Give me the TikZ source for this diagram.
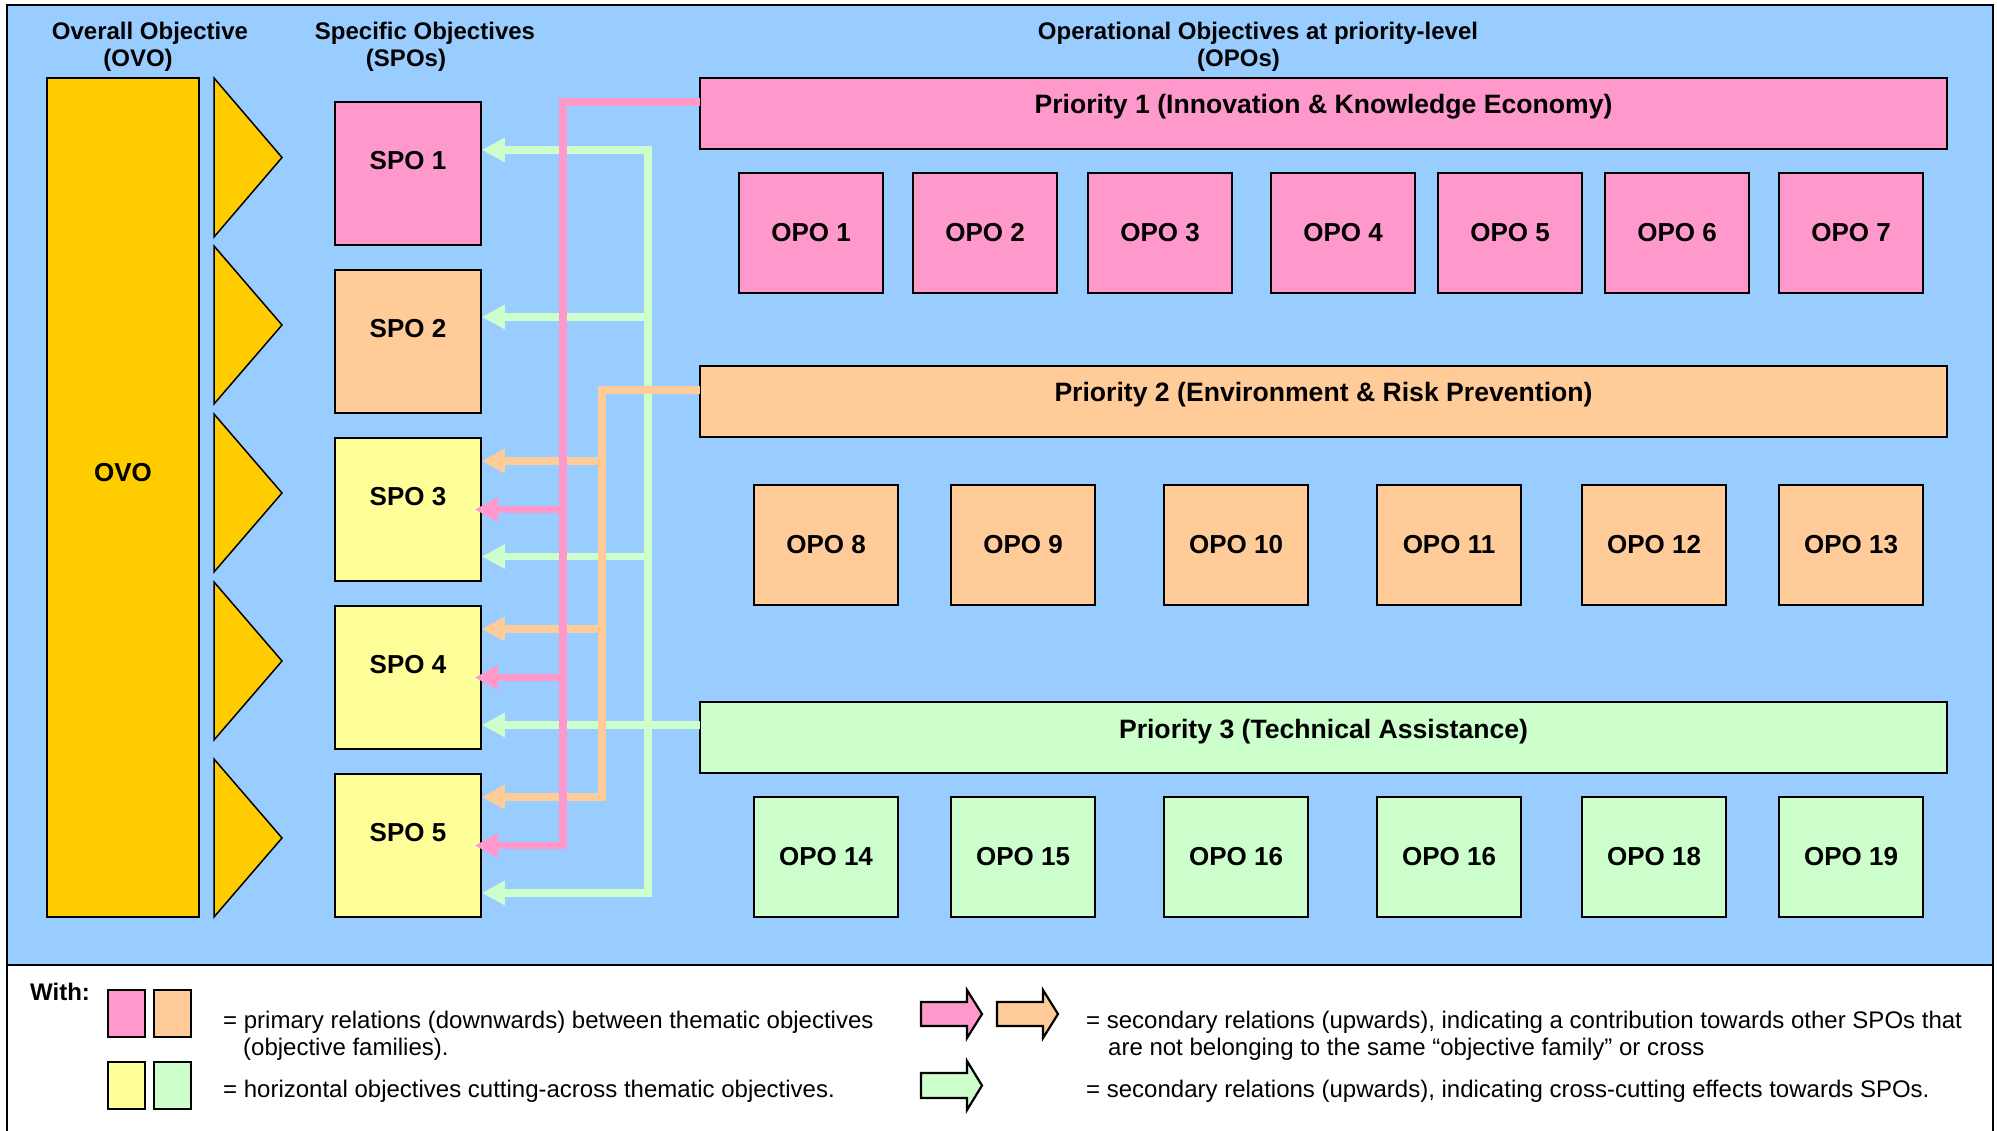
\documentclass[tikz,border=0pt]{standalone}
\usepackage{fontspec}
\setmainfont{Liberation Sans}
\usetikzlibrary{arrows.meta}
\definecolor{bgblue}{HTML}{99CCFF}
\definecolor{goldc}{HTML}{FFCC00}
\definecolor{pinkc}{HTML}{FF99CC}
\definecolor{orangec}{HTML}{FFCC99}
\definecolor{yellowc}{HTML}{FFFF99}
\definecolor{greenc}{HTML}{CCFFCC}
\newcommand\lblfont{\fontsize{26}{30}\selectfont\bfseries}
\newcommand\prifont{\fontsize{26.6}{30}\selectfont\bfseries}
\newcommand\hdrfont{\fontsize{24}{28}\selectfont\bfseries}
\newcommand\legfont{\fontsize{24}{28}\selectfont}
\begin{document}
\begin{tikzpicture}[x=1pt,y=-1pt,
  box/.style={draw=black, line width=1.6pt, inner sep=0pt, font=\lblfont},
  tri/.style={draw=black, line width=1.5pt, fill=goldc},
  hdr/.style={font=\hdrfont, inner sep=0pt},
  lbl/.style={font=\lblfont, inner sep=0pt},
  prilbl/.style={font=\prifont, inner sep=0pt},
  leg/.style={font=\legfont, inner sep=0pt, anchor=west},
  legbox/.style={draw=black, line width=1.6pt, minimum width=37pt, minimum height=47pt, inner sep=0pt},
  legarrow/.style={draw=black, line width=2.2pt, line join=miter},
  conn/.style={line width=7.5pt, line join=miter, -{Triangle[length=23pt,width=23pt]}},
  pinkarr/.style={conn, draw=pinkc},
  orangearr/.style={conn, draw=orangec},
  greenarr/.style={conn, draw=greenc}
]
\useasboundingbox (0,0) rectangle (1997,1131);
% background and frame
\fill[bgblue] (7,5) rectangle (1993,965);
\draw[line width=2pt] (7,965) -- (1993,965);
\draw[line width=2.5pt] (7,1131) -- (7,5) -- (1993,5) -- (1993,1131);

% headers
\node[hdr] (hovoa) at (150,33) {Overall Objective};
\node[hdr] (hovob) at (138,60) {(OVO)};
\node[hdr] (hspoa) at (425,33) {Specific Objectives};
\node[hdr] (hspob) at (406,60) {(SPOs)};
\node[hdr] (hopoa) at (1258,33) {Operational Objectives at priority-level};
\node[hdr] (hopob) at (1238.5,60) {(OPOs)};

% OVO
\node[box, fill=goldc, minimum width=152pt, minimum height=839pt] (ovo) at (123,497.5) {};
\node[lbl] (ovolbl) at ([yshift=25pt]ovo.center) {OVO};

% triangles
\draw[tri] (214,78) -- (282,157.5) -- (214,237) -- cycle;
\draw[tri] (214,246) -- (282,325) -- (214,404) -- cycle;
\draw[tri] (214,414) -- (282,493) -- (214,572) -- cycle;
\draw[tri] (214,582) -- (282,661) -- (214,740) -- cycle;
\draw[tri] (214,759) -- (282,838) -- (214,917) -- cycle;

% SPOs
\foreach \i/\y/\c in {1/173.5/pinkc,2/341.5/orangec,3/509.5/yellowc,4/677.5/yellowc,5/845.5/yellowc}{
  \node[box, fill=\c, minimum width=146pt, minimum height=143pt] (spo\i) at (408,\y) {};
  \node[lbl] (spolbl\i) at ([yshift=13pt]spo\i.center) {SPO \i};
}

% Priority bars
\node[box, fill=pinkc, minimum width=1247pt, minimum height=71pt] (p1) at (1323.5,113.5) {};
\node[prilbl] (p1lbl) at ([yshift=6.5pt]p1.center) {Priority 1 (Innovation \& Knowledge Economy)};
\node[box, fill=orangec, minimum width=1247pt, minimum height=71pt] (p2) at (1323.5,401.5) {};
\node[prilbl] (p2lbl) at ([yshift=6.5pt]p2.center) {Priority 2 (Environment \& Risk Prevention)};
\node[box, fill=greenc, minimum width=1247pt, minimum height=71pt] (p3) at (1323.5,737.5) {};
\node[prilbl] (p3lbl) at ([yshift=6pt]p3.center) {Priority 3 (Technical Assistance)};

% OPOs
\foreach \i/\x in {1/811,2/985,3/1160,4/1343,5/1510,6/1677,7/1851}{
  \node[box, fill=pinkc, minimum width=144pt, minimum height=120pt] (opoa\i) at (\x,233) {OPO \i};
}
\foreach \i/\t/\x in {1/8/826,2/9/1023,3/10/1236,4/11/1449,5/12/1654,6/13/1851}{
  \node[box, fill=orangec, minimum width=144pt, minimum height=120pt] (opob\i) at (\x,545) {OPO \t};
}
\foreach \i/\t/\x in {1/14/826,2/15/1023,3/16/1236,4/16/1449,5/18/1654,6/19/1851}{
  \node[box, fill=greenc, minimum width=144pt, minimum height=120pt] (opoc\i) at (\x,857) {OPO \t};
}

% connector coordinates
\coordinate (gtop) at (648,150);
\coordinate (gbot) at (648,893);
\coordinate (g2) at (648,317);
\coordinate (g3) at (648,556.5);
\coordinate (g4) at (700,725);
\coordinate (orA) at (700,390);
\coordinate (orB) at (602,390);
\coordinate (o3) at (602,461);
\coordinate (o4) at (602,629);
\coordinate (o5) at (602,797);
\coordinate (pkA) at (700,102);
\coordinate (pkB) at (563,102);

% green connectors
\draw[greenarr, {Triangle[length=23pt,width=23pt]}-{Triangle[length=23pt,width=23pt]}]
  (spo1.east |- gtop) -- (gtop) -- (gbot) -- (spo5.east |- gbot);
\draw[greenarr] (g2) -- (spo2.east |- g2);
\draw[greenarr] (g3) -- (spo3.east |- g3);
\draw[greenarr] (g4) -- (spo4.east |- g4);

% orange connectors
\draw[orangearr] (orA) -- (orB) -- (o5) -- (spo5.east |- o5);
\draw[orangearr] (o3) -- (spo3.east |- o3);
\draw[orangearr] (o4) -- (spo4.east |- o4);

% pink connectors
\draw[pinkarr] (pkA) -- (pkB) -- (pkB |- spo5.east) -- ([xshift=-7pt]spo5.east);
\draw[pinkarr] (pkB |- spo3.east) -- ([xshift=-7pt]spo3.east);
\draw[pinkarr] (pkB |- spo4.east) -- ([xshift=-7pt]spo4.east);

% legend
\node[font=\hdrfont, inner sep=0pt, anchor=west] (with) at (30,992) {With:};
\node[legbox, fill=pinkc] (lgpink) at (126.5,1013.5) {};
\node[legbox, fill=orangec] (lgorange) at (172.5,1013.5) {};
\node[legbox, fill=yellowc] (lgyellow) at (126.5,1085.5) {};
\node[legbox, fill=greenc] (lggreen) at (172.5,1085.5) {};
\node[leg] (lt1) at (223,1022) {= primary relations (downwards) between thematic objectives};
\node[leg] (lt2) at (243,1049) {(objective families).};
\node[leg] (lt3) at (223,1091) {= horizontal objectives cutting-across thematic objectives.};

\draw[legarrow, fill=pinkc] (921,1002) -- (967,1002) -- (967,990) -- (982,1014) -- (967,1038) -- (967,1026) -- (921,1026) -- cycle;
\draw[legarrow, fill=orangec] (997,1002) -- (1043,1002) -- (1043,990) -- (1058,1014) -- (1043,1038) -- (1043,1026) -- (997,1026) -- cycle;
\draw[legarrow, fill=greenc] (921,1073) -- (967,1073) -- (967,1061) -- (982,1085.5) -- (967,1110) -- (967,1098) -- (921,1098) -- cycle;

\node[leg] (rt1) at (1086,1022) {= secondary relations (upwards), indicating a contribution towards other SPOs that};
\node[leg] (rt2) at (1108,1049) {are not belonging to the same “objective family” or cross};
\node[leg] (rt3) at (1086,1091) {= secondary relations (upwards), indicating cross-cutting effects towards SPOs.};
\end{tikzpicture}
\end{document}
